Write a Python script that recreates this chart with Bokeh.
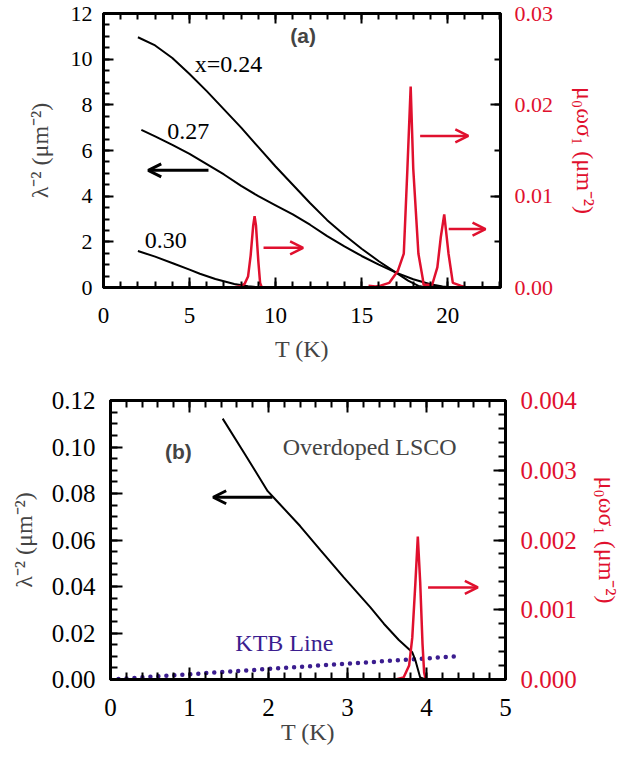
from bokeh.plotting import figure
from bokeh.models import (Range1d, LinearAxis, SingleIntervalTicker, PrintfTickFormatter,
                          CustomJSTickFormatter, Arrow, OpenHead, Label)
from bokeh.embed import file_html
from bokeh.resources import INLINE

RED = "#e0102e"
PURPLE = "#3b1d8f"
SERIF = "Liberation Serif"
SANS = "Liberation Sans"

# ---------------- data: panel (a) ----------------
T_a024 = [2.0, 3.0, 4.0, 5.0, 6.0, 7.0, 8.0, 9.0, 10.0, 11.0, 12.0, 13.0, 14.0, 15.0, 16.0, 17.0, 17.7, 18.3, 18.8]
L_a024 = [10.96, 10.6, 10.05, 9.35, 8.6, 7.8, 7.0, 6.15, 5.3, 4.5, 3.7, 2.95, 2.3, 1.7, 1.15, 0.65, 0.3, 0.07, 0.0]

T_a027 = [2.2, 3.0, 4.0, 5.0, 6.0, 7.0, 8.0, 9.0, 10.0, 11.0, 12.0, 13.0, 14.0, 15.0, 16.0, 17.0, 18.0, 19.0, 19.7, 20.3]
L_a027 = [6.9, 6.62, 6.25, 5.85, 5.4, 4.95, 4.45, 4.0, 3.6, 3.2, 2.75, 2.25, 1.8, 1.38, 1.0, 0.65, 0.36, 0.14, 0.04, 0.0]

T_a030 = [2.0, 3.0, 4.1, 5.0, 5.6, 6.5, 7.6, 8.4, 9.1]
L_a030 = [1.6, 1.35, 1.04, 0.78, 0.6, 0.37, 0.15, 0.05, 0.0]

T_s1 = [7.5, 7.9, 8.2, 8.4, 8.55, 8.7, 8.78, 8.86, 9.0, 9.1, 9.2, 10.5, 12.0, 13.4]
S_s1 = [0.0, 0.0001, 0.0004, 0.0012, 0.0035, 0.0068, 0.0078, 0.0068, 0.0028, 0.0005, 0.0, 0.0, 0.0, 0.0]

T_s2 = [15.4, 15.8, 16.1, 16.6, 17.1, 17.45, 17.66, 17.85, 18.0, 18.3, 18.55, 18.6, 19.1,
        19.4, 19.6, 19.8, 20.05, 20.3, 20.75, 21.1, 22.6]
S_s2 = [0.0002, 0.0001, 0.0002, 0.0005, 0.0018, 0.0037, 0.013, 0.022, 0.013, 0.0037, 0.001, 0.0003, 0.0003,
        0.0022, 0.0055, 0.008, 0.0037, 0.0005, 0.0002, 0.0, 0.0]

# ---------------- data: panel (b) ----------------
T_b = [1.42, 1.7, 1.99, 2.1, 2.4, 2.66, 2.95, 3.29, 3.46, 3.65, 3.82, 3.86, 3.92, 3.99]
L_b = [0.1122, 0.097, 0.081, 0.077, 0.066, 0.0555, 0.044, 0.031, 0.0240, 0.017, 0.0117, 0.0082, 0.0009, 0.0]

T_bs = [3.61, 3.71, 3.78, 3.82, 3.86, 3.89, 3.92, 3.95, 3.97, 3.99, 5.0]
S_bs = [0.0, 0.00003, 0.0002, 0.0006, 0.0014, 0.00205, 0.0014, 0.0005, 0.0001, 0.0, 0.0]

T_ktb = [0.0, 4.4]
L_ktb = [0.0, 0.0100]


def style_axis(ax, interval, minor, fmt=None, size="24px", color="black",
               standoff=12, tick_in=10, minor_in=6):
    ax.ticker = SingleIntervalTicker(interval=interval, num_minor_ticks=minor)
    if fmt:
        ax.formatter = PrintfTickFormatter(format=fmt)
    ax.axis_line_width = 3
    ax.axis_line_color = "black"
    ax.major_tick_in = tick_in
    ax.major_tick_out = 0
    ax.minor_tick_in = minor_in
    ax.minor_tick_out = 0
    ax.major_tick_line_width = 2
    ax.minor_tick_line_width = 2
    ax.major_label_text_font = SERIF
    ax.major_label_text_font_size = size
    ax.major_label_text_color = color
    ax.major_label_standoff = standoff
    ax.axis_label_text_font = SERIF
    ax.axis_label_text_font_style = "normal"
    ax.axis_label_text_font_size = "24px"


def mirror_axis(interval, minor, tick_in, minor_in):
    ax = LinearAxis()
    style_axis(ax, interval, minor, standoff=0, tick_in=tick_in, minor_in=minor_in)
    ax.formatter = CustomJSTickFormatter(code="return ''")
    return ax


def base_fig(h, xr, yr, ry, borders):
    p = figure(width=630, height=h, x_range=xr, y_range=yr, output_backend="svg",
               toolbar_location=None, min_border_left=borders[0], min_border_right=borders[1],
               min_border_top=borders[2], min_border_bottom=borders[3])
    p.extra_y_ranges = {"r": ry}
    p.xgrid.visible = False
    p.ygrid.visible = False
    p.outline_line_color = "black"
    p.outline_line_width = 3
    p.background_fill_color = "white"
    p.border_fill_color = "white"
    return p


# ================= panel (a) =================
p1 = base_fig(370, Range1d(0, 23.07), Range1d(0, 12), Range1d(0, 0.03), (103, 130, 13, 83))
style_axis(p1.xaxis[0], 5, 5, size="23px", standoff=20)
p1.xaxis[0].axis_label = "T (K)"
p1.xaxis[0].axis_label_standoff = 10
style_axis(p1.yaxis[0], 2, 4, size="22px", standoff=11)
p1.yaxis[0].axis_label = "λ⁻² (μm⁻²)"
p1.yaxis[0].axis_label_standoff = 15

ra = LinearAxis(y_range_name="r")
style_axis(ra, 0.01, 2, fmt="%.2f", size="22px", color=RED, standoff=14)
ra.axis_label = "μ₀ωσ₁ (μm⁻²)"
ra.axis_label_text_color = RED
ra.axis_label_standoff = 16
p1.add_layout(ra, "right")

p1.add_layout(mirror_axis(5, 5, 10, 6), "above")

p1.line(T_a024, L_a024, line_color="black", line_width=2)
p1.line(T_a027, L_a027, line_color="black", line_width=2)
p1.line(T_a030, L_a030, line_color="black", line_width=2)
p1.line(T_s1, S_s1, line_color=RED, line_width=2.5, y_range_name="r")
p1.line(T_s2, S_s2, line_color=RED, line_width=2.5, y_range_name="r")

p1.add_layout(Arrow(end=OpenHead(size=13, line_color="black", line_width=3),
                    x_start=6.1, y_start=5.13, x_end=2.6, y_end=5.13,
                    line_color="black", line_width=3))
for xs, xe, yv in [(9.3, 11.6, 0.00435), (18.4, 21.2, 0.0166), (20.06, 22.2, 0.0064)]:
    p1.add_layout(Arrow(end=OpenHead(size=13, line_color=RED, line_width=2.5),
                        x_start=xs, y_start=yv, x_end=xe, y_end=yv,
                        line_color=RED, line_width=2.5, y_range_name="r"))

for txt, x, y in [("x=0.24", 5.3, 9.78), ("0.27", 3.7, 6.83), ("0.30", 2.4, 2.04)]:
    p1.add_layout(Label(x=x, y=y, text=txt, text_font=SERIF, text_font_size="24px",
                        text_baseline="middle", text_align="left", text_color="black"))
p1.add_layout(Label(x=11.6, y=11.04, text="(a)", text_font=SANS, text_font_style="bold",
                    text_font_size="21px", text_baseline="middle", text_align="center"))

# ================= panel (b) =================
p2 = base_fig(387, Range1d(0, 5), Range1d(0, 0.12), Range1d(0, 0.004), (110, 125, 30, 78))
style_axis(p2.xaxis[0], 1, 5, size="25px", standoff=19, tick_in=12, minor_in=7)
p2.xaxis[0].axis_label = "T (K)"
p2.xaxis[0].axis_label_standoff = 0
style_axis(p2.yaxis[0], 0.02, 4, fmt="%.2f", size="25px", standoff=15, tick_in=12, minor_in=7)
p2.yaxis[0].axis_label = "λ⁻² (μm⁻²)"
p2.yaxis[0].axis_label_standoff = 12

rb = LinearAxis(y_range_name="r")
style_axis(rb, 0.001, 5, fmt="%.3f", size="25px", color=RED, standoff=15, tick_in=12, minor_in=7)
rb.axis_label = "μ₀ωσ₁ (μm⁻²)"
rb.axis_label_text_color = RED
rb.axis_label_standoff = 14
p2.add_layout(rb, "right")

p2.add_layout(mirror_axis(1, 5, 12, 7), "above")

p2.line(T_ktb, L_ktb, line_color=PURPLE, line_width=4.5, line_dash="0 8", line_cap="round")
p2.line(T_b, L_b, line_color="black", line_width=2)
p2.line(T_bs, S_bs, line_color=RED, line_width=2.5, y_range_name="r")

p2.add_layout(Arrow(end=OpenHead(size=13, line_color="black", line_width=3),
                    x_start=2.05, y_start=0.0784, x_end=1.3, y_end=0.0784,
                    line_color="black", line_width=3))
p2.add_layout(Arrow(end=OpenHead(size=13, line_color=RED, line_width=2.5),
                    x_start=4.02, y_start=0.00132, x_end=4.65, y_end=0.00132,
                    line_color=RED, line_width=2.5, y_range_name="r"))

p2.add_layout(Label(x=0.86, y=0.098, text="(b)", text_font=SANS, text_font_style="bold",
                    text_font_size="21px", text_baseline="middle", text_align="center"))
p2.add_layout(Label(x=2.18, y=0.1001, text="Overdoped LSCO", text_font=SERIF, text_font_size="24px",
                    text_baseline="middle", text_align="left"))
p2.add_layout(Label(x=1.58, y=0.0156, text="KTB Line", text_font=SERIF, text_font_size="24px",
                    text_baseline="middle", text_align="left", text_color=PURPLE))

open("out.html", "w").write(file_html([p1, p2], INLINE))
